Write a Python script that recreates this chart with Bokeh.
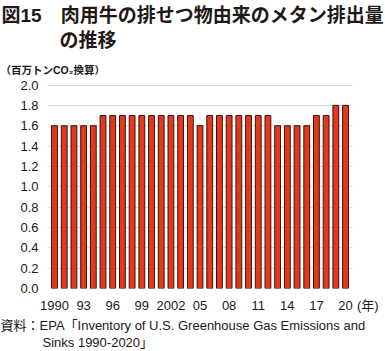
from bokeh.plotting import figure
from bokeh.models import Range1d, FixedTicker, Title, ColumnDataSource
from bokeh.embed import file_html
from bokeh.resources import INLINE

years = list(range(1990, 2021))
values = [1.6, 1.6, 1.6, 1.6, 1.6,
          1.7, 1.7, 1.7, 1.7, 1.7, 1.7, 1.7, 1.7, 1.7, 1.7,
          1.6,
          1.7, 1.7, 1.7, 1.7, 1.7, 1.7, 1.7,
          1.6, 1.6, 1.6, 1.6,
          1.7, 1.7,
          1.8, 1.8]
tick_years = [1990, 1993, 1996, 1999, 2002, 2005, 2008, 2011, 2014, 2017, 2020]
tick_labels = ["1990", "93", "96", "99", "2002", "05", "08", "11", "14", "17", "20"]
unit_pos = 2022.3
unit_label = "(年)"
y_ticks = [0.0, 0.2, 0.4, 0.6, 0.8, 1.0, 1.2, 1.4, 1.6, 1.8, 2.0]

title1 = "図15　肉用牛の排せつ物由来のメタン排出量"
title2 = "の推移"
ylabel = "（百万トンCO₂換算）"
source1 = "資料：EPA「Inventory of U.S. Greenhouse Gas Emissions and"
source2 = "Sinks 1990-2020」"

FONT = "Liberation Sans, Noto Sans CJK JP"
NUMFONT = "Liberation Sans, Noto Sans CJK JP"
TXT = "#231815"

W, H = 385, 351
X0, X1 = 1989.38, 2024.12
XLAST = 2020.72
Y0, Y1 = 0.0, 2.005

p = figure(width=W, height=H, output_backend="svg", toolbar_location=None,
           x_range=Range1d(X0, X1), y_range=Range1d(Y0, Y1),
           min_border_left=48, min_border_right=0, min_border_top=84, min_border_bottom=63)
p.outline_line_color = None
p.background_fill_color = "white"
p.border_fill_color = "white"

src = ColumnDataSource(dict(x=years, top=values))
p.vbar(x="x", top="top", width=0.6, bottom=0, source=src,
       fill_color="#E2381E", line_color="#3B1208", line_width=1)

p.xgrid.grid_line_color = None
p.ygrid.grid_line_color = "#dcdcdc"
p.ygrid.grid_line_width = 1
p.ygrid.ticker = FixedTicker(ticks=y_ticks)
p.ygrid.cross_bounds = (X0, XLAST)

p.yaxis.ticker = FixedTicker(ticks=y_ticks)
p.yaxis.major_label_overrides = {v: f"{v:.1f}" for v in y_ticks}
p.xaxis.ticker = FixedTicker(ticks=tick_years + [unit_pos])
overrides = {y: s for y, s in zip(tick_years, tick_labels)}
overrides[unit_pos] = unit_label
p.xaxis.major_label_overrides = overrides
for ax in (p.xaxis[0], p.yaxis[0]):
    ax.axis_line_color = None
    ax.major_tick_line_color = None
    ax.minor_tick_line_color = None
    ax.major_tick_out = 0
    ax.major_tick_in = 0
    ax.minor_tick_out = 0
    ax.minor_tick_in = 0
    ax.major_label_text_font = NUMFONT
    ax.major_label_text_font_size = "13px"
    ax.major_label_text_color = TXT
p.yaxis.major_label_standoff = 10
p.xaxis.major_label_standoff = 9

def title(text, place, size, bold=False, offset=0, standoff=0):
    p.add_layout(Title(text=text, align="left", offset=offset, standoff=standoff,
                       text_font=FONT, text_font_size=size,
                       text_font_style="bold" if bold else "normal",
                       text_color=TXT), place)

# above: first added is closest to the frame
title(ylabel, "above", "10.5px", bold=True, offset=-48, standoff=18)
title(title2, "above", "19px", bold=True, offset=11, standoff=4)
title(title1, "above", "19px", bold=True, offset=-47, standoff=0)
# below: after the axis
title(source1, "below", "13px", offset=-48, standoff=0)
title(source2, "below", "13px", offset=-6, standoff=1)

open("out.html", "w").write(file_html(p, INLINE))
